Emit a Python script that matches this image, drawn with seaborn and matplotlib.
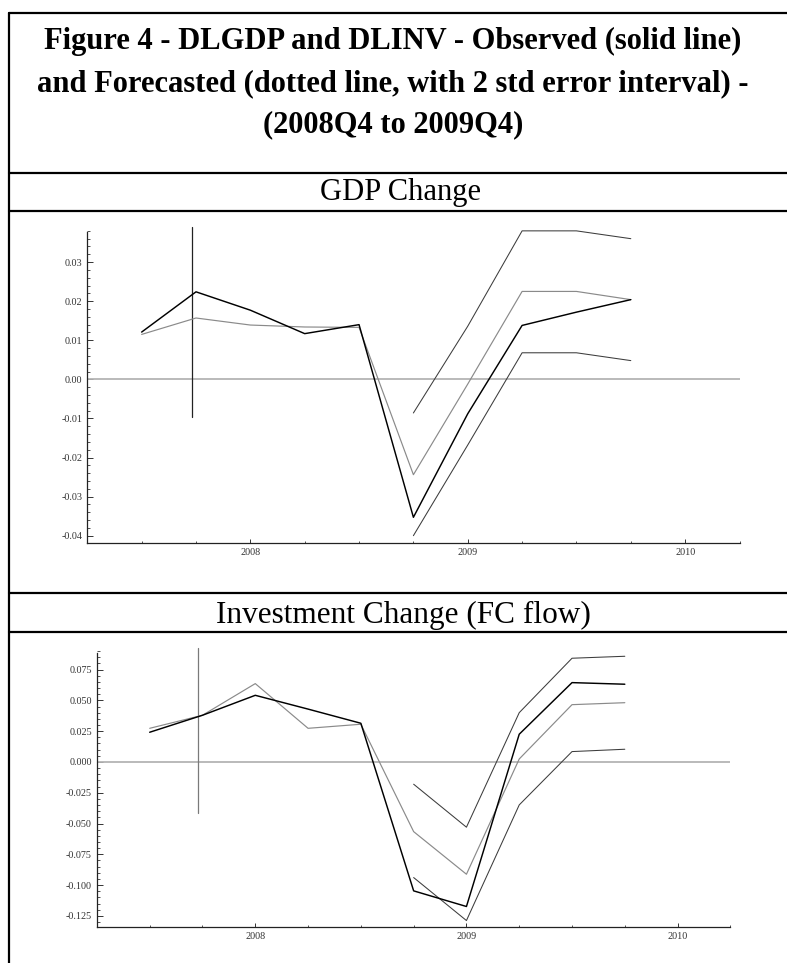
import numpy as np
import pandas as pd
import matplotlib
matplotlib.use("Agg")
import matplotlib.pyplot as plt
from matplotlib.lines import Line2D
from matplotlib.ticker import MultipleLocator, FixedLocator
import seaborn as sns

# ---------------- data ----------------
periods = ["2007Q3", "2007Q4", "2008Q1", "2008Q2", "2008Q3",
           "2008Q4", "2009Q1", "2009Q2", "2009Q3", "2009Q4"]
fc_periods = ["2008Q4", "2009Q1", "2009Q2", "2009Q3", "2009Q4"]

gdp_observed = [0.0121, 0.0224, 0.0177, 0.0117, 0.0140,
                -0.0353, -0.0088, 0.0138, 0.0172, 0.0204]
gdp_forecast = [0.0115, 0.0157, 0.0139, 0.0134, 0.0133,
                -0.0244, -0.0012, 0.0225, 0.0225, 0.0204]
gdp_upper = [-0.0086, 0.0136, 0.0380, 0.0380, 0.0360]
gdp_lower = [-0.0400, -0.0168, 0.0068, 0.0068, 0.0048]

inv_observed = [0.0241, 0.0379, 0.0541, 0.0429, 0.0314,
                -0.1047, -0.1174, 0.0225, 0.0644, 0.0631]
inv_forecast = [0.0273, 0.0379, 0.0636, 0.0273, 0.0306,
                -0.0566, -0.0912, 0.0024, 0.0465, 0.0481]
inv_upper = [-0.0181, -0.0530, 0.0400, 0.0842, 0.0858]
inv_lower = [-0.0939, -0.1288, -0.0349, 0.0084, 0.0103]

year_ticks = [2008, 2009, 2010]
gdp_yticks = [-0.04, -0.03, -0.02, -0.01, 0.00, 0.01, 0.02, 0.03]
inv_yticks = [-0.125, -0.100, -0.075, -0.050, -0.025, 0.000, 0.025, 0.050, 0.075]

title_lines = ["Figure 4 - DLGDP and DLINV - Observed (solid line)",
               "and Forecasted (dotted line, with 2 std error interval) -",
               "(2008Q4 to 2009Q4)"]
panel_titles = ["GDP Change", "Investment Change (FC flow)"]


def to_dec(p):
    return int(p[:4]) + (int(p[5]) - 1) / 4.0


x_all = [to_dec(p) for p in periods]
x_fc = [to_dec(p) for p in fc_periods]

# ---------------- style ----------------
sns.set_style("white")
plt.rcParams['font.family'] = ['Liberation Serif', 'DejaVu Serif']

W, H = 787, 963
fig = plt.figure(figsize=(W / 100, H / 100), dpi=100)


def px_axes(x0, x1, ytop, ybot):
    return [x0 / W, 1 - ybot / H, (x1 - x0) / W, (ybot - ytop) / H]


def draw_panel(ax, obs, fc, up, lo, ylim, spine_top, yticks, minor, fmt,
               vline, vcolor):
    ax.set_xlim(2007.25, 2010.25)
    ax.set_ylim(*ylim)
    # zero line
    ax.axhline(0, color="#b4b4b4", lw=1.3, zorder=1)
    # vertical marker
    ax.plot([2007.73, 2007.73], vline, color=vcolor, lw=0.9, zorder=2,
            clip_on=False)
    sns.lineplot(x=x_fc, y=up, ax=ax, color="#3c3c3c", lw=0.75, zorder=3)
    sns.lineplot(x=x_fc, y=lo, ax=ax, color="#3c3c3c", lw=0.75, zorder=3)
    sns.lineplot(x=x_all, y=fc, ax=ax, color="#8a8a8a", lw=0.85, zorder=4)
    sns.lineplot(x=x_all, y=obs, ax=ax, color="#000000", lw=1.05, zorder=5)

    for s in ["top", "right"]:
        ax.spines[s].set_visible(False)
    for s in ["left", "bottom"]:
        ax.spines[s].set_color("#222222")
        ax.spines[s].set_linewidth(0.9)
    ax.spines["left"].set_bounds(ylim[0], spine_top)

    ax.xaxis.set_major_locator(FixedLocator(year_ticks))
    ax.xaxis.set_minor_locator(MultipleLocator(0.25))
    ax.set_xticklabels([str(y) for y in year_ticks])
    ax.yaxis.set_major_locator(FixedLocator(yticks))
    ax.yaxis.set_minor_locator(MultipleLocator(minor))
    ax.set_yticklabels([fmt.format(v) for v in yticks])
    ax.tick_params(axis="x", which="major", direction="in", length=3.2,
                   width=0.7, color="#333333", labelsize=7.3, pad=4,
                   labelcolor="#333333", bottom=True)
    ax.tick_params(axis="x", which="minor", direction="in", length=1.8,
                   width=0.6, color="#333333", bottom=True)
    ax.tick_params(axis="y", which="major", direction="in", length=4.0,
                   width=0.7, color="#333333", labelsize=7.3, pad=3.6,
                   labelcolor="#333333", left=True)
    ax.tick_params(axis="y", which="minor", direction="in", length=2.2,
                   width=0.6, color="#333333", left=True)
    ax.set_xlabel("")
    ax.set_ylabel("")
    ax.set_facecolor("none")
    ax.grid(False)


# GDP panel
ax1 = fig.add_axes(px_axes(87.3, 739.5, 225.0, 542.7))
draw_panel(ax1, gdp_observed, gdp_forecast, gdp_upper, gdp_lower,
           (-0.0418, 0.0395), 0.0378, gdp_yticks, 0.002, "{:.2f}",
           [0.0390, -0.0097], "#222222")

# Investment panel
ax2 = fig.add_axes(px_axes(96.9, 730.4, 647.4, 926.7))
draw_panel(ax2, inv_observed, inv_forecast, inv_upper, inv_lower,
           (-0.1338, 0.0930), 0.0887, inv_yticks, 0.005, "{:.3f}",
           [0.0923, -0.0411], "#7a7a7a")

# ---------------- frame lines ----------------
lw_frame = 1.6


def hline(y):
    fig.add_artist(Line2D([9 / W, 1.0], [1 - y / H, 1 - y / H],
                          transform=fig.transFigure, color="black",
                          lw=lw_frame))


for y in [13.3, 173.3, 210.7, 593.0, 631.7]:
    hline(y)
fig.add_artist(Line2D([9 / W, 9 / W], [1 - 13.3 / H, 0.0],
                      transform=fig.transFigure, color="black", lw=lw_frame))

# ---------------- texts ----------------
for yy, t in zip([49.5, 91.0, 132.0], title_lines):
    fig.text(393 / W, 1 - yy / H, t, ha="center", va="baseline",
             fontsize=22, fontweight="bold", color="black")
fig.text(400 / W, 1 - 200 / H, panel_titles[0], ha="center", va="baseline",
         fontsize=22, color="black")
fig.text(403 / W, 1 - 623 / H, panel_titles[1], ha="center", va="baseline",
         fontsize=22.5, color="black")

fig.savefig("out.png", dpi=100)
